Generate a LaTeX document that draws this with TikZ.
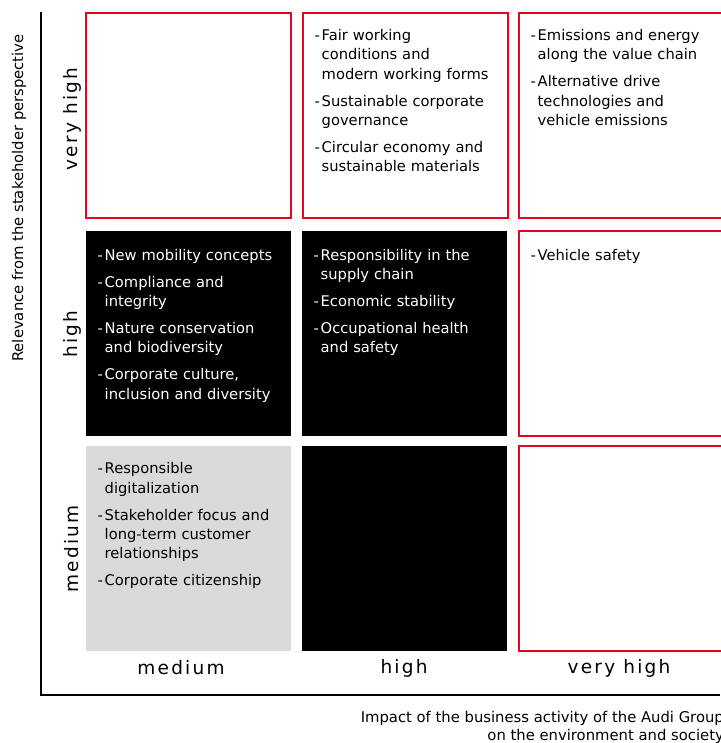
\documentclass[tikz,border=0pt]{standalone}
\usepackage{fontspec}
\setmainfont{DejaVu Sans}
\newfontfamily\catfont[LetterSpace=12]{DejaVu Sans}
\definecolor{audired}{HTML}{E40521}
\definecolor{audigrey}{HTML}{DADAD8}
\newcommand{\bodyfont}{\fontsize{14.7pt}{19.2pt}\selectfont}
\newcommand{\itm}[1]{\par\hangindent=7pt\hangafter=1\noindent\strut\makebox[7pt][l]{-}#1\par}
\newcommand{\isep}{\vspace{7.8pt}}
\tikzset{
  cellbase/.style={anchor=north west, inner sep=0pt, outer sep=0pt, minimum width=205pt, minimum height=205pt},
  cellred/.style={cellbase, draw=audired, line width=2pt, fill=white},
  cellblack/.style={cellbase, fill=black},
  cellgrey/.style={cellbase, fill=audigrey},
  items/.style={anchor=north west, inner sep=0pt, text width=200pt, align=left, font=\bodyfont},
  itemsw/.style={items, text=white},
  catlabel/.style={font=\catfont\fontsize{18.5pt}{22pt}\selectfont, inner sep=0pt},
  axisline/.style={line width=2.6pt, black},
  axistitle/.style={font=\fontsize{14.8pt}{17.5pt}\selectfont, inner sep=0pt},
}
\begin{document}
\begin{tikzpicture}[x=1pt,y=-1pt]
\useasboundingbox (0,0) rectangle (720,743);
% cells
\node[cellred]   (c11) at (86,13) {};
\node[cellred]   (c12) at (303,13) {};
\node[cellred]   (c13) at (519,13) {};
\node[cellblack] (c21) at (86,231) {};
\node[cellblack] (c22) at (302,231) {};
\node[cellred]   (c23) at (519,231) {};
\node[cellgrey]  (c31) at (86,446) {};
\node[cellblack] (c32) at (302,446) {};
\node[cellred]   (c33) at (519,446) {};
% cell texts
\node[items] (t12) at ([xshift=11.5pt,yshift=-8.4pt]c12.north west) {%
\itm{Fair working\newline conditions and\newline modern working forms}\isep
\itm{Sustainable corporate\newline governance}\isep
\itm{Circular economy and\newline sustainable materials}};
\node[items] (t13) at ([xshift=11.5pt,yshift=-8.4pt]c13.north west) {%
\itm{Emissions and energy\newline along the value chain}\isep
\itm{Alternative drive\newline technologies and\newline vehicle emissions}};
\node[itemsw] (t21) at ([xshift=11.5pt,yshift=-10pt]c21.north west) {%
\itm{New mobility concepts}\isep
\itm{Compliance and\newline integrity}\isep
\itm{Nature conservation\newline and biodiversity}\isep
\itm{Corporate culture,\newline inclusion and diversity}};
\node[itemsw] (t22) at ([xshift=11.5pt,yshift=-10pt]c22.north west) {%
\itm{Responsibility in the\newline supply chain}\isep
\itm{Economic stability}\isep
\itm{Occupational health\newline and safety}};
\node[items] (t23) at ([xshift=11.5pt,yshift=-10pt]c23.north west) {%
\itm{Vehicle safety}};
\node[items] (t31) at ([xshift=11.5pt,yshift=-8.4pt]c31.north west) {%
\itm{Responsible\newline digitalization}\isep
\itm{Stakeholder focus and\newline long-term customer\newline relationships}\isep
\itm{Corporate citizenship}};
% axes
\coordinate (ytop) at (41,12);
\coordinate (origin) at (41,695);
\coordinate (xend) at (720,695);
\draw[axisline] (ytop) -- (origin) -- (xend);
% row labels
\node[catlabel, rotate=90] (r1) at (72,119) {very high};
\node[catlabel, rotate=90] (r2) at (72,334) {high};
\node[catlabel, rotate=90] (r3) at (72,549) {medium};
% column labels
\node[catlabel] (k1) at (181,668) {medium};
\node[catlabel] (k2) at (404,668) {high};
\node[catlabel] (k3) at (619,668) {very high};
% axis titles
\node[axistitle, rotate=90] (ytitle) at (19,198) {Relevance from the stakeholder perspective};
\node[axistitle, anchor=north east, align=right] (xtitle) at (724,711.5) {Impact of the business activity of the Audi Group\\on the environment and society};
\end{tikzpicture}
\end{document}
